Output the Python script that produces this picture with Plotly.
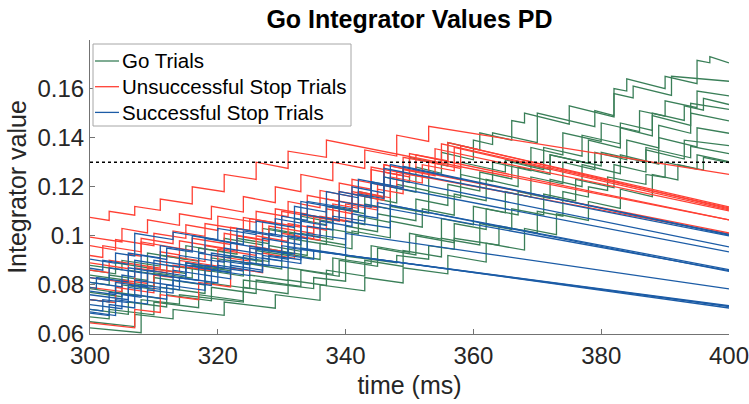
import plotly.graph_objects as go

# ---------------- data ----------------
threshold = 0.13
x_ticks = [300, 320, 340, 360, 380, 400]
y_ticks = [0.06, 0.08, 0.1, 0.12, 0.14, 0.16]
y_tick_text = ["0.06", "0.08", "0.1", "0.12", "0.14", "0.16"]
legend_labels = ["Go Trials", "Unsuccessful Stop Trials", "Successful Stop Trials"]

# each trace: list of (time ms, integrator value) vertices; jumps are two vertices at one time
go_trials = [
    [(300,0.0785),(304,0.0770),(304,0.0815),(310,0.0795),(310,0.0850),(316,0.0828),(316,0.0880),(322,0.0858),(322,0.0920),(328,0.0895),(328,0.0960),(333,0.0937),(333,0.1010),(338,0.0985),(338,0.1070),(343,0.1045),(343,0.1130),(347,0.1110),(347,0.1200),(351,0.1178),(351,0.1280),(355,0.1255),(355,0.1340),(360,0.1310),(360,0.1390),(363,0.1372),(363,0.1420),(370,0.1380),(370,0.1500),(379,0.1445),(379,0.1510),(382,0.1490),(382,0.1600),(384,0.1590),(384,0.1640),(390,0.1600),(390,0.1650),(395,0.1620),(395,0.1715),(397,0.1705),(397,0.1730),(400,0.1705)],
    [(300,0.0880),(305,0.0862),(305,0.0900),(311,0.0877),(311,0.0920),(317,0.0896),(317,0.0950),(323,0.0925),(323,0.0990),(328,0.0968),(328,0.1030),(333,0.1007),(333,0.1080),(338,0.1055),(338,0.1120),(342,0.1100),(342,0.1180),(346,0.1158),(346,0.1240),(350,0.1218),(350,0.1320),(356,0.1285),(356,0.1380),(361,0.1350),(361,0.1420),(366,0.1390),(366,0.1470),(368,0.1460),(368,0.1500),(375,0.1455),(375,0.1530),(382,0.1485),(382,0.1580),(385,0.1562),(385,0.1610),(391,0.1572),(391,0.1650),(400,0.1630)],
    [(300,0.0840),(306,0.0818),(306,0.0860),(312,0.0838),(312,0.0880),(319,0.0855),(319,0.0910),(326,0.0884),(326,0.0940),(331,0.0920),(331,0.0990),(337,0.0965),(337,0.1030),(342,0.1008),(342,0.1080),(347,0.1055),(347,0.1120),(353,0.1092),(353,0.1180),(358,0.1155),(358,0.1250),(363,0.1222),(363,0.1300),(369,0.1265),(369,0.1360),(374,0.1330),(374,0.1420),(380,0.1385),(380,0.1460),(386,0.1425),(386,0.1510),(390,0.1488),(390,0.1550),(395,0.1522),(395,0.1590),(400,0.1570)],
    [(300,0.0810),(303,0.0800),(303,0.0840),(309,0.0818),(309,0.0870),(315,0.0847),(315,0.0890),(321,0.0866),(321,0.0920),(327,0.0895),(327,0.0950),(334,0.0920),(334,0.0990),(340,0.0963),(340,0.1040),(345,0.1017),(345,0.1090),(351,0.1062),(351,0.1150),(356,0.1124),(356,0.1210),(361,0.1183),(361,0.1260),(366,0.1232),(366,0.1300),(371,0.1270),(371,0.1360),(377,0.1325),(377,0.1410),(383,0.1375),(383,0.1460),(388,0.1430),(388,0.1500),(393,0.1470),(393,0.1530),(396,0.1512),(396,0.1560),(400,0.1535)],
    [(300,0.0770),(305,0.0752),(305,0.0800),(310,0.0782),(310,0.0830),(318,0.0800),(318,0.0860),(324,0.0836),(324,0.0890),(330,0.0865),(330,0.0930),(336,0.0904),(336,0.0970),(341,0.0947),(341,0.1020),(347,0.0992),(347,0.1060),(352,0.1035),(352,0.1110),(357,0.1084),(357,0.1170),(362,0.1143),(362,0.1230),(367,0.1200),(367,0.1280),(372,0.1250),(372,0.1330),(378,0.1295),(378,0.1390),(383,0.1358),(383,0.1440),(388,0.1407),(388,0.1490),(394,0.1450),(394,0.1540),(400,0.1515)],
    [(300,0.0740),(304,0.0728),(304,0.0770),(311,0.0745),(311,0.0790),(318,0.0765),(318,0.0810),(325,0.0785),(325,0.0840),(331,0.0818),(331,0.0870),(338,0.0843),(338,0.0910),(344,0.0886),(344,0.0960),(350,0.0933),(350,0.1010),(355,0.0987),(355,0.1070),(360,0.1045),(360,0.1120),(365,0.1094),(365,0.1180),(369,0.1158),(369,0.1240),(374,0.1212),(374,0.1300),(379,0.1270),(379,0.1340),(384,0.1310),(384,0.1390),(389,0.1358),(389,0.1450),(394,0.1418),(394,0.1500),(400,0.1468)],
    [(300,0.0700),(306,0.0680),(306,0.0730),(312,0.0710),(312,0.0760),(319,0.0735),(319,0.0790),(326,0.0765),(326,0.0820),(333,0.0794),(333,0.0860),(339,0.0835),(339,0.0900),(345,0.0876),(345,0.0950),(351,0.0922),(351,0.1000),(357,0.0972),(357,0.1050),(362,0.1026),(362,0.1110),(367,0.1085),(367,0.1180),(372,0.1152),(372,0.1230),(377,0.1200),(377,0.1290),(383,0.1253),(383,0.1330),(389,0.1292),(389,0.1400),(395,0.1362),(395,0.1440),(400,0.1418)],
    [(300,0.0670),(303,0.0662),(303,0.0700),(310,0.0678),(310,0.0730),(317,0.0707),(317,0.0760),(324,0.0735),(324,0.0790),(331,0.0764),(331,0.0820),(337,0.0798),(337,0.0860),(343,0.0836),(343,0.0900),(349,0.0875),(349,0.0940),(355,0.0914),(355,0.0990),(361,0.0963),(361,0.1050),(366,0.1026),(366,0.1110),(371,0.1085),(371,0.1170),(376,0.1142),(376,0.1230),(382,0.1196),(382,0.1290),(387,0.1260),(387,0.1350),(393,0.1313),(393,0.1390),(400,0.1368)],
    [(300,0.0625),(308,0.0605),(308,0.0740),(314,0.0722),(314,0.0760),(324,0.0730),(324,0.0820),(335,0.0785),(335,0.0830),(340,0.0815),(340,0.0917),(348,0.0890),(348,0.0920),(353,0.0905),(353,0.0960),(357,0.0945),(357,0.0990),(364,0.0962),(364,0.1040),(370,0.1012),(370,0.1100),(374,0.1080),(374,0.1180),(378,0.1158),(378,0.1200),(381,0.1185),(381,0.1240),(387,0.1210),(387,0.1250),(390,0.1238),(390,0.1300),(395,0.1272),(395,0.1330),(400,0.1302)],
    [(300,0.0650),(307,0.0630),(307,0.0680),(313,0.0662),(313,0.0700),(321,0.0676),(321,0.0730),(329,0.0705),(329,0.0760),(336,0.0737),(336,0.0800),(343,0.0776),(343,0.0830),(349,0.0808),(349,0.0870),(356,0.0845),(356,0.0920),(362,0.0893),(362,0.0970),(368,0.0942),(368,0.1030),(373,0.1005),(373,0.1090),(378,0.1063),(378,0.1140),(383,0.1112),(383,0.1190),(388,0.1160),(388,0.1250),(392,0.1228),(392,0.1290),(396,0.1268),(396,0.1320),(400,0.1298)],
    [(300,0.0860),(304,0.0845),(304,0.0890),(309,0.0870),(309,0.0930),(315,0.0905),(315,0.0960),(321,0.0935),(321,0.0990),(327,0.0963),(327,0.1030),(332,0.1007),(332,0.1070),(337,0.1045),(337,0.1120),(343,0.1090),(343,0.1160),(348,0.1134),(348,0.1210),(353,0.1183),(353,0.1260),(358,0.1230),(358,0.1300),(365,0.1260),(365,0.1310),(372,0.1270),(372,0.1330),(380,0.1285),(380,0.1340),(387,0.1300),(387,0.1360),(394,0.1318),(394,0.1365),(400,0.1335)],
]

unsuccessful_stop = [
    [(300,0.1075),(303,0.1063),(303,0.1100),(307,0.1084),(307,0.1120),(311,0.1104),(311,0.1150),(316,0.1130),(316,0.1200),(321,0.1180),(321,0.1250),(326,0.1230),(326,0.1300),(331,0.1275),(331,0.1345),(337,0.1320),(337,0.1390),(400,0.1065)],
    [(300,0.0995),(305,0.0975),(305,0.1030),(309,0.1012),(309,0.1065),(314,0.1043),(314,0.1090),(319,0.1068),(319,0.1120),(324,0.1097),(324,0.1160),(329,0.1135),(329,0.1200),(333,0.1180),(333,0.1250),(338,0.1225),(338,0.1300),(343,0.1275),(343,0.1350),(348,0.1325),(348,0.1410),(353,0.1385),(353,0.1446),(400,0.1250)],
    [(300,0.0960),(304,0.0942),(304,0.0985),(310,0.0960),(310,0.1010),(315,0.0990),(315,0.1045),(320,0.1022),(320,0.1080),(326,0.1055),(326,0.1100),(331,0.1078),(331,0.1140),(336,0.1115),(336,0.1185),(341,0.1160),(341,0.1230),(346,0.1205),(346,0.1290),(351,0.1262),(351,0.1330),(356,0.1305),(356,0.1380),(400,0.1118)],
    [(300,0.0920),(302,0.0912),(302,0.0960),(308,0.0935),(308,0.0990),(313,0.0968),(313,0.1020),(318,0.0998),(318,0.1050),(324,0.1025),(324,0.1075),(329,0.1053),(329,0.1110),(334,0.1088),(334,0.1165),(339,0.1140),(339,0.1215),(344,0.1190),(344,0.1270),(349,0.1245),(349,0.1320),(355,0.1292),(355,0.1375),(400,0.1114)],
    [(300,0.0890),(306,0.0866),(306,0.0925),(308,0.0917),(308,0.0975),(316,0.0940),(316,0.0990),(322,0.0965),(322,0.1035),(325,0.1022),(325,0.1070),(333,0.1035),(333,0.1090),(337,0.1072),(337,0.1150),(345,0.1115),(345,0.1210),(348,0.1197),(348,0.1260),(353,0.1235),(353,0.1300),(358,0.1275),(358,0.1368),(400,0.1110)],
    [(300,0.0860),(303,0.0850),(303,0.0900),(311,0.0868),(311,0.0935),(314,0.0922),(314,0.0980),(321,0.0950),(321,0.1010),(327,0.0985),(327,0.1060),(330,0.1047),(330,0.1100),(338,0.1064),(338,0.1130),(342,0.1112),(342,0.1180),(347,0.1155),(347,0.1240),(352,0.1215),(352,0.1290),(357,0.1265),(357,0.1360),(400,0.1106)],
    [(300,0.0830),(307,0.0805),(307,0.0870),(312,0.0850),(312,0.0920),(318,0.0895),(318,0.0960),(323,0.0938),(323,0.1000),(328,0.0978),(328,0.1040),(335,0.1010),(335,0.1080),(340,0.1058),(340,0.1130),(345,0.1105),(345,0.1190),(349,0.1172),(349,0.1270),(354,0.1245),(354,0.1355),(400,0.1102)],
    [(300,0.0790),(305,0.0773),(305,0.0820),(309,0.0806),(309,0.0870),(314,0.0850),(314,0.0900),(320,0.0877),(320,0.0945),(326,0.0920),(326,0.1000),(331,0.0977),(331,0.1050),(337,0.1023),(337,0.1110),(341,0.1090),(341,0.1180),(346,0.1155),(346,0.1260),(350,0.1240),(350,0.1335),(400,0.1065)],
    [(300,0.0645),(307,0.0625),(307,0.0700),(311,0.0688),(311,0.0760),(317,0.0740),(317,0.0810),(322,0.0792),(322,0.0870),(327,0.0850),(327,0.0930),(332,0.0908),(332,0.1000),(336,0.0982),(336,0.1080),(341,0.1058),(341,0.1170),(346,0.1145),(346,0.1290),(400,0.1012)],
    [(300,0.0740),(304,0.0728),(304,0.0790),(310,0.0768),(310,0.0840),(313,0.0830),(313,0.0880),(319,0.0858),(319,0.0920),(325,0.0897),(325,0.0960),(330,0.0938),(330,0.1010),(335,0.0988),(335,0.1080),(339,0.1060),(339,0.1180),(344,0.1160),(344,0.1280),(400,0.1008)],
]

successful_stop = [
    [(300,0.0905),(304,0.0888),(304,0.0930),(307,0.0918),(307,0.1010),(313,0.0985),(313,0.1015),(320,0.0985),(320,0.1030),(326,0.1005),(326,0.1060),(332,0.1034),(332,0.1120),(337,0.1097),(337,0.1180),(342,0.1155),(342,0.1230),(347,0.1205),(347,0.1290),(400,0.1006)],
    [(300,0.0868),(302,0.0860),(302,0.0900),(306,0.0884),(306,0.0930),(311,0.0910),(311,0.0960),(318,0.0930),(318,0.0990),(323,0.0968),(323,0.1030),(329,0.1003),(329,0.1070),(333,0.1052),(333,0.1140),(339,0.1113),(339,0.1180),(344,0.1155),(344,0.1220),(349,0.1196),(349,0.1283),(400,0.1003)],
    [(300,0.0830),(303,0.0818),(303,0.0870),(308,0.0850),(308,0.0920),(312,0.0904),(312,0.0950),(316,0.0934),(316,0.1000),(324,0.0965),(324,0.1020),(330,0.0995),(330,0.1080),(334,0.1063),(334,0.1140),(341,0.1110),(341,0.1200),(346,0.1175),(346,0.1275),(400,0.1000)],
    [(300,0.0810),(305,0.0792),(305,0.0840),(307,0.0832),(307,0.0900),(314,0.0872),(314,0.0920),(321,0.0892),(321,0.0950),(327,0.0925),(327,0.0990),(333,0.0964),(333,0.1060),(337,0.1042),(337,0.1120),(342,0.1097),(342,0.1170),(346,0.1152),(346,0.1240),(400,0.0955)],
    [(300,0.0790),(301,0.0786),(301,0.0830),(306,0.0812),(306,0.0870),(310,0.0854),(310,0.0900),(317,0.0872),(317,0.0930),(322,0.0910),(322,0.0970),(328,0.0945),(328,0.1010),(333,0.0987),(333,0.1090),(339,0.1063),(339,0.1140),(344,0.1117),(344,0.1215),(400,0.0935)],
    [(300,0.0775),(304,0.0760),(304,0.0810),(309,0.0792),(309,0.0860),(315,0.0837),(315,0.0890),(319,0.0874),(319,0.0930),(326,0.0902),(326,0.0950),(332,0.0926),(332,0.1010),(336,0.0993),(336,0.1060),(341,0.1038),(341,0.1090),(345,0.1072),(345,0.1135),(400,0.0862)],
    [(300,0.0760),(306,0.0740),(306,0.0790),(308,0.0783),(308,0.0850),(315,0.0825),(315,0.0880),(320,0.0860),(320,0.0900),(325,0.0882),(325,0.0950),(331,0.0927),(331,0.1000),(334,0.0988),(334,0.1040),(338,0.1024),(338,0.1080),(343,0.1060),(343,0.1128),(400,0.0858)],
    [(300,0.0740),(303,0.0730),(303,0.0770),(307,0.0756),(307,0.0820),(313,0.0798),(313,0.0860),(318,0.0840),(318,0.0880),(324,0.0857),(324,0.0920),(330,0.0897),(330,0.0960),(334,0.0945),(334,0.1010),(340,0.0987),(340,0.1060),(347,0.1032),(347,0.1125),(400,0.0855)],
    [(300,0.0720),(305,0.0703),(305,0.0760),(308,0.0750),(308,0.0800),(314,0.0780),(314,0.0830),(320,0.0808),(320,0.0880),(327,0.0852),(327,0.0910),(333,0.0887),(333,0.0950),(340,0.0922),(340,0.1010),(400,0.0784)],
    [(300,0.0700),(302,0.0694),(302,0.0740),(306,0.0728),(306,0.0800),(311,0.0782),(311,0.0840),(317,0.0818),(317,0.0870),(322,0.0852),(322,0.0900),(328,0.0878),(328,0.0920),(333,0.0903),(333,0.0945),(400,0.0712)],
    [(300,0.0690),(304,0.0675),(304,0.0740),(309,0.0722),(309,0.0780),(313,0.0767),(313,0.0820),(319,0.0798),(319,0.0860),(325,0.0838),(325,0.0890),(331,0.0870),(331,0.0920),(335,0.0905),(335,0.0940),(400,0.0706)],
    [(300,0.0685),(303,0.0675),(303,0.0720),(307,0.0706),(307,0.0760),(312,0.0742),(312,0.0800),(318,0.0778),(318,0.0840),(322,0.0825),(322,0.0880),(327,0.0860),(327,0.0920),(331,0.0905),(331,0.0952),(400,0.0715)],
]

group_data = [go_trials, unsuccessful_stop, successful_stop]
group_colors = ["#3a7f58", "#ff4034", "#1c5ca6"]

FONT = "Liberation Sans, Arial, Helvetica, sans-serif"
TXT = "#262626"

fig = go.Figure()
for name, traces, color in zip(legend_labels, group_data, group_colors):
    for i, tr in enumerate(traces):
        fig.add_trace(go.Scatter(
            x=[p[0] for p in tr], y=[p[1] for p in tr], mode="lines",
            line=dict(color=color, width=1.3),
            name=name, legendgroup=name, showlegend=False,
        ))

fig.add_trace(go.Scatter(
    x=[x_ticks[0], x_ticks[-1]], y=[threshold, threshold], mode="lines",
    line=dict(color="black", width=1.5, dash="dot"), showlegend=False,
))

# MATLAB-style legend box (short line samples, compact rows) in paper coordinates
PL, PT, PW, PH = 90, 40, 639, 294
def px(x): return (x - PL) / PW
def py(y): return (PT + PH - y) / PH

shapes = [dict(type="rect", xref="paper", yref="paper", x0=px(93), x1=px(351),
               y0=py(126), y1=py(44), line=dict(color="#a6a6a6", width=1),
               fillcolor="white", layer="above")]
annotations = []
for k, (lab, col) in enumerate(zip(legend_labels, group_colors)):
    yy = 61 + 25.7 * k
    shapes.append(dict(type="line", xref="paper", yref="paper", x0=px(95), x1=px(119),
                       y0=py(yy), y1=py(yy), line=dict(color=col, width=1.3), layer="above"))
    annotations.append(dict(text=lab, xref="paper", yref="paper", x=px(120), y=py(yy),
                            xanchor="left", yanchor="middle", showarrow=False,
                            font=dict(size=20.5, color="black", family=FONT)))

fig.update_layout(
    width=749, height=404,
    margin=dict(l=PL, r=749 - PL - PW, t=PT, b=404 - PT - PH, autoexpand=False),
    paper_bgcolor="white", plot_bgcolor="white",
    font=dict(family=FONT, color=TXT),
    title=dict(text="<b>Go Integrator Values PD</b>", x=0.5467, xanchor="center",
               y=0.952, yanchor="middle", font=dict(size=25, color="black", family=FONT)),
    showlegend=False,
    shapes=shapes, annotations=annotations,
)
fig.update_xaxes(
    range=[300, 400], tickvals=x_ticks, ticks="inside", ticklen=5, tickcolor="#737373",
    showline=True, linecolor="#737373", linewidth=1, showgrid=False, zeroline=False,
    automargin=False, ticklabeloverflow="allow",
    tickfont=dict(size=24, color=TXT),
    title=dict(text="time (ms)", font=dict(size=25, color=TXT), standoff=8),
)
fig.update_yaxes(
    range=[0.06, 0.1798], tickvals=y_ticks, ticktext=y_tick_text, ticks="inside", ticklen=5,
    tickcolor="#737373", showline=True, linecolor="#737373", linewidth=1,
    showgrid=False, zeroline=False, automargin=False, ticklabeloverflow="allow",
    tickfont=dict(size=24, color=TXT),
    title=dict(text="Integrator value", font=dict(size=25, color=TXT), standoff=3),
)

fig.write_html("out.html")
